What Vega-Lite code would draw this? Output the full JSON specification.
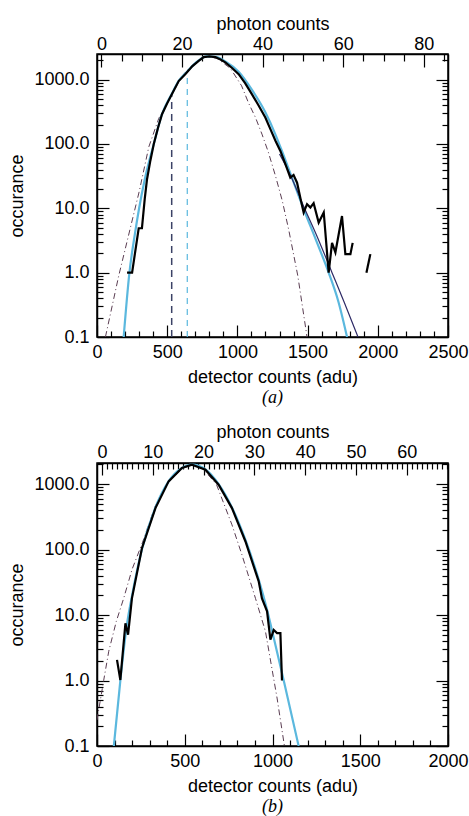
{
  "$schema": "https://vega.github.io/schema/vega-lite/v6.json",
  "background": "white",
  "padding": {"left": 8, "top": 14, "right": 5, "bottom": 5},
  "config": {
    "font": "Liberation Sans",
    "view": {"stroke": "black", "strokeWidth": 1.5},
    "axis": {"labelFont": "Liberation Sans", "labelFontSize": 18, "titleFont": "Liberation Sans", "titleFontSize": 18, "titleFontWeight": "normal", "labelColor": "black", "titleColor": "black", "domainColor": "black", "tickColor": "black", "grid": false, "domainWidth": 1.5, "tickWidth": 1.2, "labelFlush": false, "labelOverlap": false, "labelBound": false}
  },
  "datasets": {
    "a": [
      {"series": "data", "seg": 1, "adu": 214, "count": 1},
      {"series": "data", "seg": 1, "adu": 250, "count": 1},
      {"series": "data", "seg": 1, "adu": 297, "count": 4.9},
      {"series": "data", "seg": 1, "adu": 320, "count": 4.9},
      {"series": "data", "seg": 1, "adu": 340, "count": 14},
      {"series": "data", "seg": 1, "adu": 356, "count": 28},
      {"series": "data", "seg": 1, "adu": 380, "count": 55},
      {"series": "data", "seg": 1, "adu": 404, "count": 99},
      {"series": "data", "seg": 1, "adu": 435, "count": 180},
      {"series": "data", "seg": 1, "adu": 463, "count": 290},
      {"series": "data", "seg": 1, "adu": 500, "count": 430},
      {"series": "data", "seg": 1, "adu": 534, "count": 600},
      {"series": "data", "seg": 1, "adu": 582, "count": 950},
      {"series": "data", "seg": 1, "adu": 630, "count": 1220},
      {"series": "data", "seg": 1, "adu": 680, "count": 1620},
      {"series": "data", "seg": 1, "adu": 724, "count": 1950},
      {"series": "data", "seg": 1, "adu": 760, "count": 2240},
      {"series": "data", "seg": 1, "adu": 800, "count": 2300},
      {"series": "data", "seg": 1, "adu": 843, "count": 2240},
      {"series": "data", "seg": 1, "adu": 880, "count": 2050},
      {"series": "data", "seg": 1, "adu": 914, "count": 1850},
      {"series": "data", "seg": 1, "adu": 960, "count": 1530},
      {"series": "data", "seg": 1, "adu": 1009, "count": 1216},
      {"series": "data", "seg": 1, "adu": 1055, "count": 880},
      {"series": "data", "seg": 1, "adu": 1104, "count": 590},
      {"series": "data", "seg": 1, "adu": 1150, "count": 400},
      {"series": "data", "seg": 1, "adu": 1199, "count": 257},
      {"series": "data", "seg": 1, "adu": 1235, "count": 170},
      {"series": "data", "seg": 1, "adu": 1271, "count": 112},
      {"series": "data", "seg": 1, "adu": 1306, "count": 78},
      {"series": "data", "seg": 1, "adu": 1340, "count": 50},
      {"series": "data", "seg": 1, "adu": 1377, "count": 30},
      {"series": "data", "seg": 1, "adu": 1400, "count": 33},
      {"series": "data", "seg": 1, "adu": 1425, "count": 25},
      {"series": "data", "seg": 1, "adu": 1450, "count": 14},
      {"series": "data", "seg": 1, "adu": 1472, "count": 8.6},
      {"series": "data", "seg": 1, "adu": 1496, "count": 11.6},
      {"series": "data", "seg": 1, "adu": 1520, "count": 10.3},
      {"series": "data", "seg": 1, "adu": 1543, "count": 12},
      {"series": "data", "seg": 1, "adu": 1579, "count": 6},
      {"series": "data", "seg": 1, "adu": 1615, "count": 8.6},
      {"series": "data", "seg": 1, "adu": 1650, "count": 1},
      {"series": "data", "seg": 1, "adu": 1674, "count": 2.9},
      {"series": "data", "seg": 1, "adu": 1698, "count": 2.06},
      {"series": "data", "seg": 1, "adu": 1745, "count": 7.6},
      {"series": "data", "seg": 1, "adu": 1769, "count": 1.94},
      {"series": "data", "seg": 1, "adu": 1805, "count": 1.94},
      {"series": "data", "seg": 1, "adu": 1821, "count": 2.9},
      {"series": "data", "seg": 2, "adu": 1919, "count": 1},
      {"series": "data", "seg": 2, "adu": 1947, "count": 1.94},
      {"series": "fit", "adu": 190, "count": 0.1},
      {"series": "fit", "adu": 231, "count": 1},
      {"series": "fit", "adu": 270, "count": 4},
      {"series": "fit", "adu": 300, "count": 10},
      {"series": "fit", "adu": 340, "count": 28},
      {"series": "fit", "adu": 404, "count": 99},
      {"series": "fit", "adu": 463, "count": 290},
      {"series": "fit", "adu": 534, "count": 610},
      {"series": "fit", "adu": 582, "count": 960},
      {"series": "fit", "adu": 630, "count": 1250},
      {"series": "fit", "adu": 724, "count": 1980},
      {"series": "fit", "adu": 780, "count": 2290},
      {"series": "fit", "adu": 843, "count": 2260},
      {"series": "fit", "adu": 914, "count": 1920},
      {"series": "fit", "adu": 1009, "count": 1320},
      {"series": "fit", "adu": 1104, "count": 690},
      {"series": "fit", "adu": 1199, "count": 310},
      {"series": "fit", "adu": 1271, "count": 140},
      {"series": "fit", "adu": 1320, "count": 75},
      {"series": "fit", "adu": 1377, "count": 35},
      {"series": "fit", "adu": 1470, "count": 10},
      {"series": "fit", "adu": 1560, "count": 3.2},
      {"series": "fit", "adu": 1650, "count": 1},
      {"series": "fit", "adu": 1720, "count": 0.35},
      {"series": "fit", "adu": 1781, "count": 0.1},
      {"series": "tail", "adu": 1300, "count": 70},
      {"series": "tail", "adu": 1377, "count": 33},
      {"series": "tail", "adu": 1470, "count": 11},
      {"series": "tail", "adu": 1560, "count": 4},
      {"series": "tail", "adu": 1674, "count": 1},
      {"series": "tail", "adu": 1760, "count": 0.35},
      {"series": "tail", "adu": 1859, "count": 0.1},
      {"series": "model", "adu": 60, "count": 0.1},
      {"series": "model", "adu": 155, "count": 0.9},
      {"series": "model", "adu": 238, "count": 5},
      {"series": "model", "adu": 300, "count": 18},
      {"series": "model", "adu": 369, "count": 90},
      {"series": "model", "adu": 440, "count": 250},
      {"series": "model", "adu": 523, "count": 525},
      {"series": "model", "adu": 600, "count": 1100},
      {"series": "model", "adu": 680, "count": 1700},
      {"series": "model", "adu": 760, "count": 2200},
      {"series": "model", "adu": 800, "count": 2290},
      {"series": "model", "adu": 860, "count": 2100},
      {"series": "model", "adu": 950, "count": 1500},
      {"series": "model", "adu": 1030, "count": 800},
      {"series": "model", "adu": 1080, "count": 430},
      {"series": "model", "adu": 1128, "count": 260},
      {"series": "model", "adu": 1175, "count": 142},
      {"series": "model", "adu": 1220, "count": 75},
      {"series": "model", "adu": 1271, "count": 32},
      {"series": "model", "adu": 1320, "count": 13},
      {"series": "model", "adu": 1365, "count": 4.7},
      {"series": "model", "adu": 1430, "count": 0.9},
      {"series": "model", "adu": 1496, "count": 0.1}
    ],
    "a_thr": [
      {"series": "dark", "adu": 532, "count": 0.1, "top": 600},
      {"series": "light", "adu": 643, "count": 0.1, "top": 1300}
    ],
    "b": [
      {"series": "data", "adu": 114, "count": 2.07},
      {"series": "data", "adu": 133, "count": 1.02},
      {"series": "data", "adu": 162, "count": 7.5},
      {"series": "data", "adu": 177, "count": 5.0},
      {"series": "data", "adu": 199, "count": 18},
      {"series": "data", "adu": 256, "count": 105},
      {"series": "data", "adu": 333, "count": 430},
      {"series": "data", "adu": 408, "count": 1100},
      {"series": "data", "adu": 484, "count": 1760},
      {"series": "data", "adu": 541, "count": 1980},
      {"series": "data", "adu": 618, "count": 1660},
      {"series": "data", "adu": 693, "count": 980},
      {"series": "data", "adu": 769, "count": 430},
      {"series": "data", "adu": 846, "count": 133},
      {"series": "data", "adu": 921, "count": 33},
      {"series": "data", "adu": 940, "count": 18},
      {"series": "data", "adu": 969, "count": 11.4},
      {"series": "data", "adu": 988, "count": 4.2},
      {"series": "data", "adu": 1007, "count": 5.9},
      {"series": "data", "adu": 1026, "count": 5.3},
      {"series": "data", "adu": 1045, "count": 5.3},
      {"series": "data", "adu": 1054, "count": 1.0},
      {"series": "fit", "adu": 96, "count": 0.1},
      {"series": "fit", "adu": 133, "count": 1},
      {"series": "fit", "adu": 170, "count": 7},
      {"series": "fit", "adu": 200, "count": 20},
      {"series": "fit", "adu": 256, "count": 100},
      {"series": "fit", "adu": 333, "count": 440},
      {"series": "fit", "adu": 408, "count": 1100},
      {"series": "fit", "adu": 484, "count": 1760},
      {"series": "fit", "adu": 541, "count": 1990},
      {"series": "fit", "adu": 618, "count": 1680},
      {"series": "fit", "adu": 693, "count": 1000},
      {"series": "fit", "adu": 769, "count": 440},
      {"series": "fit", "adu": 846, "count": 140},
      {"series": "fit", "adu": 921, "count": 35},
      {"series": "fit", "adu": 969, "count": 12},
      {"series": "fit", "adu": 1007, "count": 4.5},
      {"series": "fit", "adu": 1064, "count": 1},
      {"series": "fit", "adu": 1149, "count": 0.1},
      {"series": "model", "adu": 0, "count": 0.25},
      {"series": "model", "adu": 38, "count": 1},
      {"series": "model", "adu": 67, "count": 2.8},
      {"series": "model", "adu": 110, "count": 8},
      {"series": "model", "adu": 152, "count": 18},
      {"series": "model", "adu": 200, "count": 50},
      {"series": "model", "adu": 260, "count": 130},
      {"series": "model", "adu": 330, "count": 450},
      {"series": "model", "adu": 410, "count": 1100},
      {"series": "model", "adu": 490, "count": 1750},
      {"series": "model", "adu": 545, "count": 1980},
      {"series": "model", "adu": 600, "count": 1750},
      {"series": "model", "adu": 680, "count": 1000},
      {"series": "model", "adu": 769, "count": 239},
      {"series": "model", "adu": 826, "count": 83},
      {"series": "model", "adu": 903, "count": 18},
      {"series": "model", "adu": 960, "count": 5.6},
      {"series": "model", "adu": 1026, "count": 0.54},
      {"series": "model", "adu": 1068, "count": 0.1}
    ],
    "a_ph": [{"ph": 0}],
    "b_ph": [{"ph": 0}]
  },
  "spacing": 14,
  "vconcat": [
    {
      "width": 351,
      "height": 283,
      "title": {"text": "(a)", "orient": "bottom", "font": "Liberation Serif", "fontStyle": "italic", "fontSize": 18, "fontWeight": "normal", "color": "black", "offset": 3},
      "layer": [
        {
          "layer": [
            {
              "data": {"name": "a"},
              "transform": [{"filter": "datum.series === 'model'"}],
              "mark": {"type": "line", "color": "#5a3d52", "strokeWidth": 1, "strokeDash": [6, 3, 1, 3], "clip": true},
              "encoding": {
                "x": {"field": "adu", "type": "quantitative", "scale": {"domain": [0, 2500], "nice": false, "zero": false},
                  "axis": {"orient": "bottom", "title": "detector counts (adu)", "values": [0,100,200,300,400,500,600,700,800,900,1000,1100,1200,1300,1400,1500,1600,1700,1800,1900,2000,2100,2200,2300,2400,2500], "labelExpr": "datum.value % 500 === 0 ? format(datum.value, 'd') : ''", "tickSize": {"condition": {"test": "datum.value % 500 === 0", "value": -12}, "value": -6}, "labelPadding": 18, "titlePadding": 1, "labelOverlap": false, "labelFontSize": 18, "titleFontSize": 18}},
                "y": {"field": "count", "type": "quantitative", "scale": {"type": "log", "domain": [0.1, 2500], "nice": false},
                  "axis": {"orient": "left", "title": "occurance", "values": [0.1,0.2,0.3,0.4,0.5,0.6,0.7,0.8,0.9,1,2,3,4,5,6,7,8,9,10,20,30,40,50,60,70,80,90,100,200,300,400,500,600,700,800,900,1000,2000], "labelExpr": "indexof([0.1,1,10,100,1000], datum.value) >= 0 ? format(datum.value, '.1f') : ''", "tickSize": {"condition": {"test": "indexof([0.1,1,10,100,1000], datum.value) >= 0", "value": -12}, "value": -6}, "labelPadding": 20, "titlePadding": 7, "labelOverlap": false, "labelFontSize": 18, "titleFontSize": 18}}
              }
            },
            {
              "data": {"name": "a_thr"},
              "transform": [{"filter": "datum.series === 'dark'"}],
              "mark": {"type": "rule", "color": "#3b4266", "strokeWidth": 1.5, "strokeDash": [7, 5]},
              "encoding": {
                "x": {"field": "adu", "type": "quantitative", "axis": null},
                "y": {"field": "count", "type": "quantitative", "axis": null},
                "y2": {"field": "top"}
              }
            },
            {
              "data": {"name": "a_thr"},
              "transform": [{"filter": "datum.series === 'light'"}],
              "mark": {"type": "rule", "color": "#5bb8de", "strokeWidth": 1.2, "strokeDash": [6, 5]},
              "encoding": {
                "x": {"field": "adu", "type": "quantitative", "axis": null},
                "y": {"field": "count", "type": "quantitative", "axis": null},
                "y2": {"field": "top"}
              }
            },
            {
              "data": {"name": "a"},
              "transform": [{"filter": "datum.series === 'fit'"}],
              "mark": {"type": "line", "color": "#5bb8de", "strokeWidth": 2.2, "clip": true, "interpolate": "monotone"},
              "encoding": {
                "x": {"field": "adu", "type": "quantitative", "axis": null},
                "y": {"field": "count", "type": "quantitative",
                  "axis": {"orient": "right", "title": null, "labels": false, "values": [0.1,0.2,0.3,0.4,0.5,0.6,0.7,0.8,0.9,1,2,3,4,5,6,7,8,9,10,20,30,40,50,60,70,80,90,100,200,300,400,500,600,700,800,900,1000,2000], "tickSize": {"condition": {"test": "indexof([0.1,1,10,100,1000], datum.value) >= 0", "value": -12}, "value": -6}}}
              }
            },
            {
              "data": {"name": "a"},
              "transform": [{"filter": "datum.series === 'tail'"}],
              "mark": {"type": "line", "color": "#2d2a66", "strokeWidth": 1.2, "clip": true, "interpolate": "monotone"},
              "encoding": {
                "x": {"field": "adu", "type": "quantitative", "axis": null},
                "y": {"field": "count", "type": "quantitative", "axis": null}
              }
            },
            {
              "data": {"name": "a"},
              "transform": [{"filter": "datum.series === 'data'"}],
              "mark": {"type": "line", "color": "black", "strokeWidth": 2.2, "clip": true},
              "encoding": {
                "x": {"field": "adu", "type": "quantitative", "axis": null},
                "y": {"field": "count", "type": "quantitative", "axis": null},
                "detail": {"field": "seg", "type": "nominal"}
              }
            }
          ],
          "resolve": {"axis": {"y": "independent", "x": "independent"}}
        },
        {
          "data": {"name": "a_ph"},
          "mark": {"type": "rule", "strokeOpacity": 0},
          "encoding": {
            "x": {"field": "ph", "type": "quantitative", "scale": {"domain": [-1.1, 86.0], "nice": false, "zero": false},
              "axis": {"orient": "top", "title": "photon counts", "values": [0,5,10,15,20,25,30,35,40,45,50,55,60,65,70,75,80,85], "labelExpr": "datum.value % 20 === 0 ? format(datum.value, 'd') : ''", "tickSize": {"condition": {"test": "datum.value % 20 === 0", "value": -13}, "value": -7}, "labelPadding": 14, "titlePadding": -4, "labelOverlap": false, "labelFontSize": 18, "titleFontSize": 18}}
          }
        }
      ],
      "resolve": {"scale": {"x": "independent"}}
    },
    {
      "width": 351,
      "height": 283,
      "title": {"text": "(b)", "orient": "bottom", "font": "Liberation Serif", "fontStyle": "italic", "fontSize": 18, "fontWeight": "normal", "color": "black", "offset": 3},
      "layer": [
        {
          "layer": [
            {
              "data": {"name": "b"},
              "transform": [{"filter": "datum.series === 'model'"}],
              "mark": {"type": "line", "color": "#5a3d52", "strokeWidth": 1, "strokeDash": [6, 3, 1, 3], "clip": true},
              "encoding": {
                "x": {"field": "adu", "type": "quantitative", "scale": {"domain": [0, 2000], "nice": false, "zero": false},
                  "axis": {"orient": "bottom", "title": "detector counts (adu)", "values": [0,100,200,300,400,500,600,700,800,900,1000,1100,1200,1300,1400,1500,1600,1700,1800,1900,2000], "labelExpr": "datum.value % 500 === 0 ? format(datum.value, 'd') : ''", "tickSize": {"condition": {"test": "datum.value % 500 === 0", "value": -12}, "value": -6}, "labelPadding": 18, "titlePadding": 1, "labelOverlap": false, "labelFontSize": 18, "titleFontSize": 18}},
                "y": {"field": "count", "type": "quantitative", "scale": {"type": "log", "domain": [0.1, 2100], "nice": false},
                  "axis": {"orient": "left", "title": "occurance", "values": [0.1,0.2,0.3,0.4,0.5,0.6,0.7,0.8,0.9,1,2,3,4,5,6,7,8,9,10,20,30,40,50,60,70,80,90,100,200,300,400,500,600,700,800,900,1000,2000], "labelExpr": "indexof([0.1,1,10,100,1000], datum.value) >= 0 ? format(datum.value, '.1f') : ''", "tickSize": {"condition": {"test": "indexof([0.1,1,10,100,1000], datum.value) >= 0", "value": -12}, "value": -6}, "labelPadding": 20, "titlePadding": 7, "labelOverlap": false, "labelFontSize": 18, "titleFontSize": 18}}
              }
            },
            {
              "data": {"name": "b"},
              "transform": [{"filter": "datum.series === 'fit'"}],
              "mark": {"type": "line", "color": "#5bb8de", "strokeWidth": 2.2, "clip": true, "interpolate": "monotone"},
              "encoding": {
                "x": {"field": "adu", "type": "quantitative", "axis": null},
                "y": {"field": "count", "type": "quantitative",
                  "axis": {"orient": "right", "title": null, "labels": false, "values": [0.1,0.2,0.3,0.4,0.5,0.6,0.7,0.8,0.9,1,2,3,4,5,6,7,8,9,10,20,30,40,50,60,70,80,90,100,200,300,400,500,600,700,800,900,1000,2000], "tickSize": {"condition": {"test": "indexof([0.1,1,10,100,1000], datum.value) >= 0", "value": -12}, "value": -6}}}
              }
            },
            {
              "data": {"name": "b"},
              "transform": [{"filter": "datum.series === 'data'"}],
              "mark": {"type": "line", "color": "black", "strokeWidth": 2.2, "clip": true},
              "encoding": {
                "x": {"field": "adu", "type": "quantitative", "axis": null},
                "y": {"field": "count", "type": "quantitative", "axis": null}
              }
            }
          ],
          "resolve": {"axis": {"y": "independent", "x": "independent"}}
        },
        {
          "data": {"name": "b_ph"},
          "mark": {"type": "rule", "strokeOpacity": 0},
          "encoding": {
            "x": {"field": "ph", "type": "quantitative", "scale": {"domain": [-0.97, 68.1], "nice": false, "zero": false},
              "axis": {"orient": "top", "title": "photon counts", "values": [0,1,2,3,4,5,6,7,8,9,10,11,12,13,14,15,16,17,18,19,20,21,22,23,24,25,26,27,28,29,30,31,32,33,34,35,36,37,38,39,40,41,42,43,44,45,46,47,48,49,50,51,52,53,54,55,56,57,58,59,60,61,62,63,64,65,66,67,68], "labelExpr": "datum.value % 10 === 0 ? format(datum.value, 'd') : ''", "tickSize": {"condition": {"test": "datum.value % 10 === 0", "value": -12}, "value": -6}, "labelPadding": 14, "titlePadding": -4, "labelOverlap": false, "labelFontSize": 18, "titleFontSize": 18}}
          }
        }
      ],
      "resolve": {"scale": {"x": "independent"}}
    }
  ]
}
